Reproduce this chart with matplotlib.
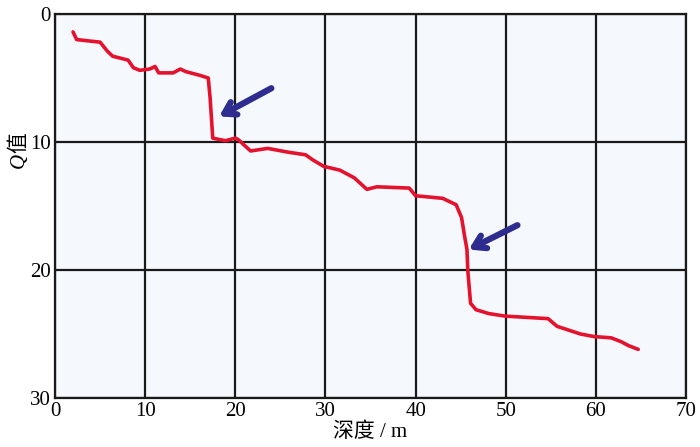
import matplotlib.pyplot as plt
import numpy as np

plt.rcParams['font.family'] = ['Liberation Serif', 'Noto Sans CJK SC']

# depth (m) and Q value
depth = [2.0, 2.4, 5.0, 5.8, 6.4, 8.1, 8.7, 9.4, 10.5, 11.1, 11.5, 13.1, 13.9, 14.5,
         16.1, 17.0, 17.2, 17.5, 18.9, 20.0, 20.3, 21.7, 23.6, 25.9, 27.8, 28.6,
         29.8, 31.6, 33.2, 34.6, 35.7, 39.3, 40.0, 43.0, 44.5, 45.1, 45.4, 45.7,
         45.8, 46.1, 46.7, 48.1, 49.9, 54.7, 55.7, 58.3, 59.8, 61.7, 62.8, 63.6, 64.7]
q_value = [1.4, 2.0, 2.2, 2.9, 3.3, 3.6, 4.2, 4.4, 4.3, 4.1, 4.6, 4.6, 4.3, 4.5,
           4.8, 5.0, 6.5, 9.7, 9.9, 9.7, 9.8, 10.7, 10.5, 10.8, 11.0, 11.4,
           11.9, 12.2, 12.8, 13.7, 13.5, 13.6, 14.2, 14.4, 14.9, 15.9, 17.2, 18.4,
           20.1, 22.6, 23.1, 23.4, 23.6, 23.8, 24.4, 25.0, 25.2, 25.3, 25.6, 25.9, 26.2]

# arrows: (tip x, tip y, tail x, tail y)
arrows = [(18.2, 8.0, 24.0, 5.8), (45.9, 18.4, 51.3, 16.5)]

fig = plt.figure(figsize=(7, 4.47), dpi=100)
ax = fig.add_axes([0.0786, 0.1096, 0.9014, 0.8591])
ax.set_facecolor('#f5f9fe')

ax.plot(depth, q_value, color='#e5122d', lw=2.6, solid_capstyle='round',
        solid_joinstyle='round', zorder=3)

for tx, ty, sx, sy in arrows:
    ax.annotate('', xy=(tx, ty), xytext=(sx, sy),
                arrowprops=dict(arrowstyle='->, head_length=0.8, head_width=0.5',
                                color='#2e2d8f', lw=4.5, shrinkA=0, shrinkB=0,
                                capstyle='round', joinstyle='round'),
                zorder=4)

ax.set_xlim(0, 70)
ax.set_ylim(30, 0)
ax.set_xticks(np.arange(0, 71, 10))
ax.set_yticks([0, 10, 20, 30])
ax.grid(True, color='#1a1a1a', lw=1.6)
ax.set_axisbelow(True)
for s in ax.spines.values():
    s.set_color('#1a1a1a')
    s.set_linewidth(1.6)
ax.tick_params(length=0, labelsize=15, pad=3)

fig.text(0.5286, 0.032, '深度 / m', ha='center', va='center', fontsize=15)
# y label: italic Q followed by 值, stacked bottom-up
fig.text(0.028, 0.642, 'Q', ha='center', va='center', rotation=90, fontsize=15,
         style='italic')
fig.text(0.028, 0.682, '值', ha='center', va='center', rotation=90, fontsize=15)

plt.savefig('out.png', dpi=100)
